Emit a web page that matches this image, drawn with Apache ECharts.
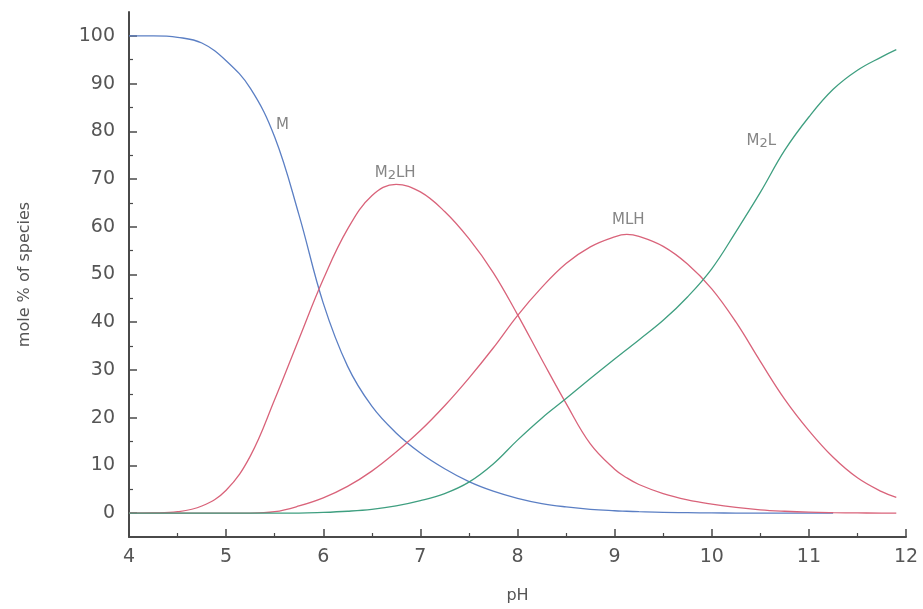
<!DOCTYPE html>
<html>
<head>
<meta charset="utf-8">
<script src="https://cdn.jsdelivr.net/npm/echarts@6/dist/echarts.min.js"></script>
<style>html,body{margin:0;padding:0;background:#fff;}#c{width:923px;height:609px;}</style>
</head>
<body>
<div id="c"></div>
<script>
// pH grid
const pH = [4.0,4.25,4.5,4.75,5.0,5.25,5.5,5.75,6.0,6.25,6.5,6.75,7.0,7.25,7.5,7.75,8.0,8.25,8.5,8.75,9.0,9.125,9.25,9.5,9.75,10.0,10.25,10.5,10.75,11.0,11.25,11.5,11.75,11.9];
// mole % of species
const M    = [100,100,99.7,98.5,94.8,89,78.8,62.5,44,30.8,22.4,16.8,12.6,9.3,6.6,4.6,3.1,2.0,1.3,0.8,0.5,0.4,0.3,0.15,0.1,0.05,0.02,0,0,0,0,null,null,null];
const M2LH = [0,0.05,0.3,1.5,4.8,12,23.8,36.5,49,59.5,66.5,68.9,67.3,63.2,57.5,50.4,41.6,32.2,23,14.5,9.2,7.4,6.0,4.1,2.8,1.9,1.2,0.7,0.4,0.2,0.1,0.05,0,0];
const MLH  = [0,0,0,0,0,0,0.3,1.5,3.2,5.6,8.8,12.8,17.3,22.5,28.3,34.6,41.4,47.3,52.3,55.8,57.9,58.4,58.0,55.9,52.2,47.0,40.0,31.8,23.9,17.3,11.7,7.4,4.5,3.3];
const M2L  = [0,0,0,0,0,0,0,0,0.15,0.4,0.8,1.5,2.6,4.1,6.5,10.3,15.3,19.9,24.0,28.2,32.3,34.3,36.3,40.4,45.3,51.2,59.0,67.2,76.0,83.0,88.8,92.8,95.6,97.1];
// axis ticks
const yMajor = [0,10,20,30,40,50,60,70,80,90,100];
const yMinor = [5,15,25,35,45,55,65,75,85,95];
// curve annotations
const labelText = ['M', 'M{s|2}LH', 'MLH', 'M{s|2}L'];
const labelPH   = [5.58, 6.74, 9.14, 10.51];
const labelVal  = [81.4, 71.3, 61.3, 78];

const pairs = arr => pH.map((x, i) => [x, arr[i]]);

const chart = echarts.init(document.getElementById('c'), null, {renderer: 'canvas'});
const axisCol = '#4a4a4a';
const textCol = '#555';
const font = 'DejaVu Sans';

const lineSeries = (name, arr, color) => ({
  name, type: 'line', data: pairs(arr), smooth: 0.4, showSymbol: false,
  connectNulls: false, lineStyle: {color, width: 1.3}, itemStyle: {color},
  z: 3, silent: true
});

chart.setOption({
  animation: false,
  backgroundColor: '#fff',
  grid: {left: 129, right: 17, top: 12, bottom: 70, containLabel: false},
  xAxis: {
    type: 'value', min: 4, max: 12, interval: 1,
    name: 'pH', nameLocation: 'middle', nameGap: 51,
    nameTextStyle: {color: textCol, fontSize: 16, fontFamily: font},
    axisLine: {show: true, onZero: false, lineStyle: {color: axisCol, width: 2}},
    axisTick: {show: true, inside: true, length: 8, lineStyle: {color: axisCol, width: 1.5}},
    minorTick: {show: true, splitNumber: 2, length: 4, lineStyle: {color: axisCol, width: 1.2}},
    splitLine: {show: false},
    axisLabel: {color: textCol, fontSize: 19, fontFamily: font, margin: 11, showMinLabel: true, showMaxLabel: true}
  },
  yAxis: [{
    type: 'value', min: -5, max: 105,
    name: 'mole % of species', nameLocation: 'middle', nameGap: 96, nameRotate: 90,
    nameTextStyle: {color: textCol, fontSize: 16, fontFamily: font},
    axisLine: {show: true, onZero: false, lineStyle: {color: axisCol, width: 2}},
    axisTick: {show: true, inside: true, length: 8, customValues: yMajor, lineStyle: {color: axisCol, width: 1.5}},
    splitLine: {show: false},
    axisLabel: {color: textCol, fontSize: 19, fontFamily: font, margin: 14,
      customValues: yMajor, formatter: v => String(v)}
  }, {
    type: 'value', min: -5, max: 105, position: 'left', offset: 0,
    axisLine: {show: false, onZero: false},
    axisTick: {show: true, inside: true, length: 4, customValues: yMinor, lineStyle: {color: axisCol, width: 1.2}},
    axisLabel: {show: false},
    splitLine: {show: false}
  }],
  series: [
    lineSeries('M', M, '#5b7fc4'),
    lineSeries('M2LH', M2LH, '#d9637a'),
    lineSeries('MLH', MLH, '#d9637a'),
    lineSeries('M2L', M2L, '#3f9f80'),
    {
      name: 'labels', type: 'scatter', symbolSize: 0, silent: true, z: 5,
      data: labelText.map((t, i) => ({value: [labelPH[i], labelVal[i]], name: t})),
      label: {
        show: true, position: 'inside', formatter: p => p.name,
        color: '#666', fontSize: 15, fontFamily: font,
        rich: {s: {fontSize: 13, color: '#666', fontFamily: font, verticalAlign: 'bottom', padding: [6, 0, 0, 0]}}
      }
    }
  ]
});
</script>
</body>
</html>
